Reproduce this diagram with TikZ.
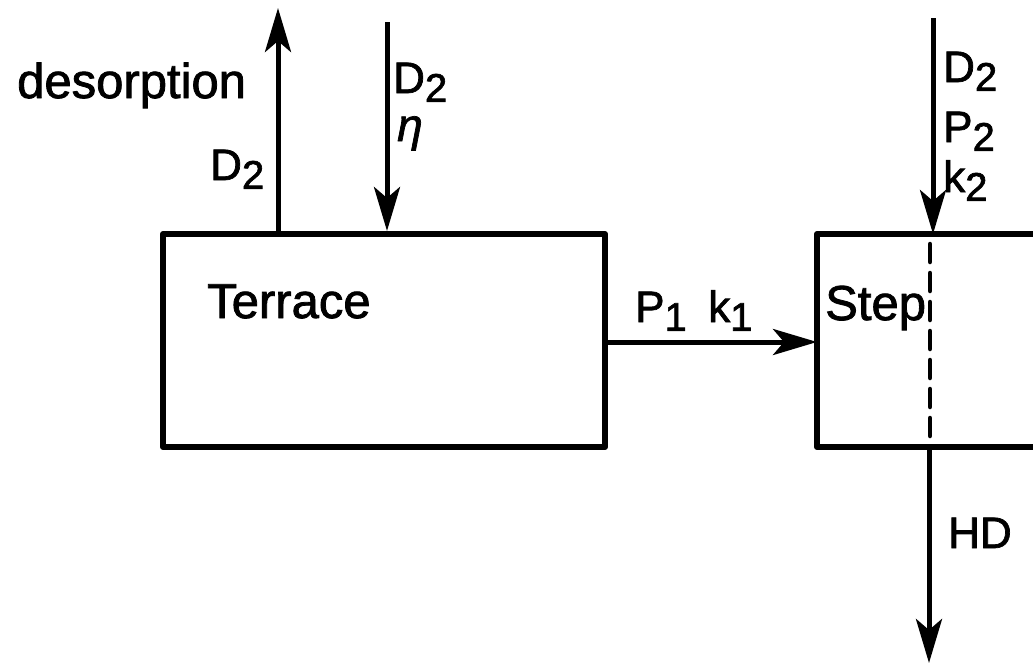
\documentclass[tikz,border=0pt]{standalone}
\usepackage{fontspec}
\setmainfont{Liberation Sans}[FakeBold=1.6]
\usetikzlibrary{arrows.meta}
\newcommand\mysub[1]{\raisebox{-0.2em}{\fontsize{40}{42}\selectfont #1}}
\tikzset{
  big/.style={font=\fontsize{49}{52}\selectfont, inner sep=0pt, anchor=base west},
  lab/.style={font=\fontsize{44}{48}\selectfont, inner sep=0pt, anchor=base west},
  boxline/.style={line width=6pt, line join=round},
  arr/.style={line width=5pt, -{Stealth[length=44pt, width=26pt, inset=11pt]}},
  dashline/.style={line width=4.5pt, dash pattern=on 18pt off 11pt, line cap=round}
}
\begin{document}
\begin{tikzpicture}[x=1pt, y=-1pt]
\useasboundingbox (0,0) rectangle (1033,664);
% Terrace box
\node[draw, boxline, rectangle, minimum width=442pt, minimum height=213pt, inner sep=0pt]
  (terrace) at (384,340.5) {};
\node[big] (terracelabel) at (207,318) {Terrace};
% Step box (cut off on the right)
\coordinate (stepNW) at (817,234);
\coordinate (stepSW) at (817,447);
\coordinate (stepNE) at (1036,234);
\coordinate (stepSE) at (1036,447);
\draw[boxline] (stepNE) -- (stepNW) -- (stepSW) -- (stepSE);
\coordinate (stepW) at (817,342);
\node[big] (steplabel) at (825,320) {Step};
% dashed divider
\coordinate (dashTop) at (930,244);
\coordinate (dashBot) at (930,437);
\draw[dashline] (dashTop) -- (dashBot);
% desorption arrow
\coordinate (desTop) at (278,8);
\draw[arr] (desTop |- terrace.north) -- (desTop);
\node[big] (desorption) at (17,98) {desorption};
\node[lab] (d2left) at (210,180) {D\mysub{2}};
% D2 eta arrow
\coordinate (etaTop) at (387,22);
\draw[arr] (etaTop) -- (etaTop |- terrace.north);
\node[lab] (d2mid) at (393,93) {D\mysub{2}};
\node[lab, font=\fontsize{46}{48}\selectfont\itshape] (eta) at (397,141) {η};
% Terrace -> Step
\draw[arr] (terrace.east |- stepW) -- (stepW);
\node[lab] (p1) at (635,322) {P\mysub{1}};
\node[lab] (k1) at (708,322) {k\mysub{1}};
% D2 P2 k2 arrow
\coordinate (rightTop) at (933,18);
\draw[arr] (rightTop) -- (rightTop |- stepNW);
\node[lab] (d2right) at (943,82) {D\mysub{2}};
\node[lab] (p2) at (943,142) {P\mysub{2}};
\node[lab] (k2) at (943,192) {k\mysub{2}};
% HD arrow
\coordinate (hdBot) at (929,663);
\draw[arr] (hdBot |- stepSW) -- (hdBot);
\node[lab] (hd) at (948,548) {HD};
\end{tikzpicture}
\end{document}
